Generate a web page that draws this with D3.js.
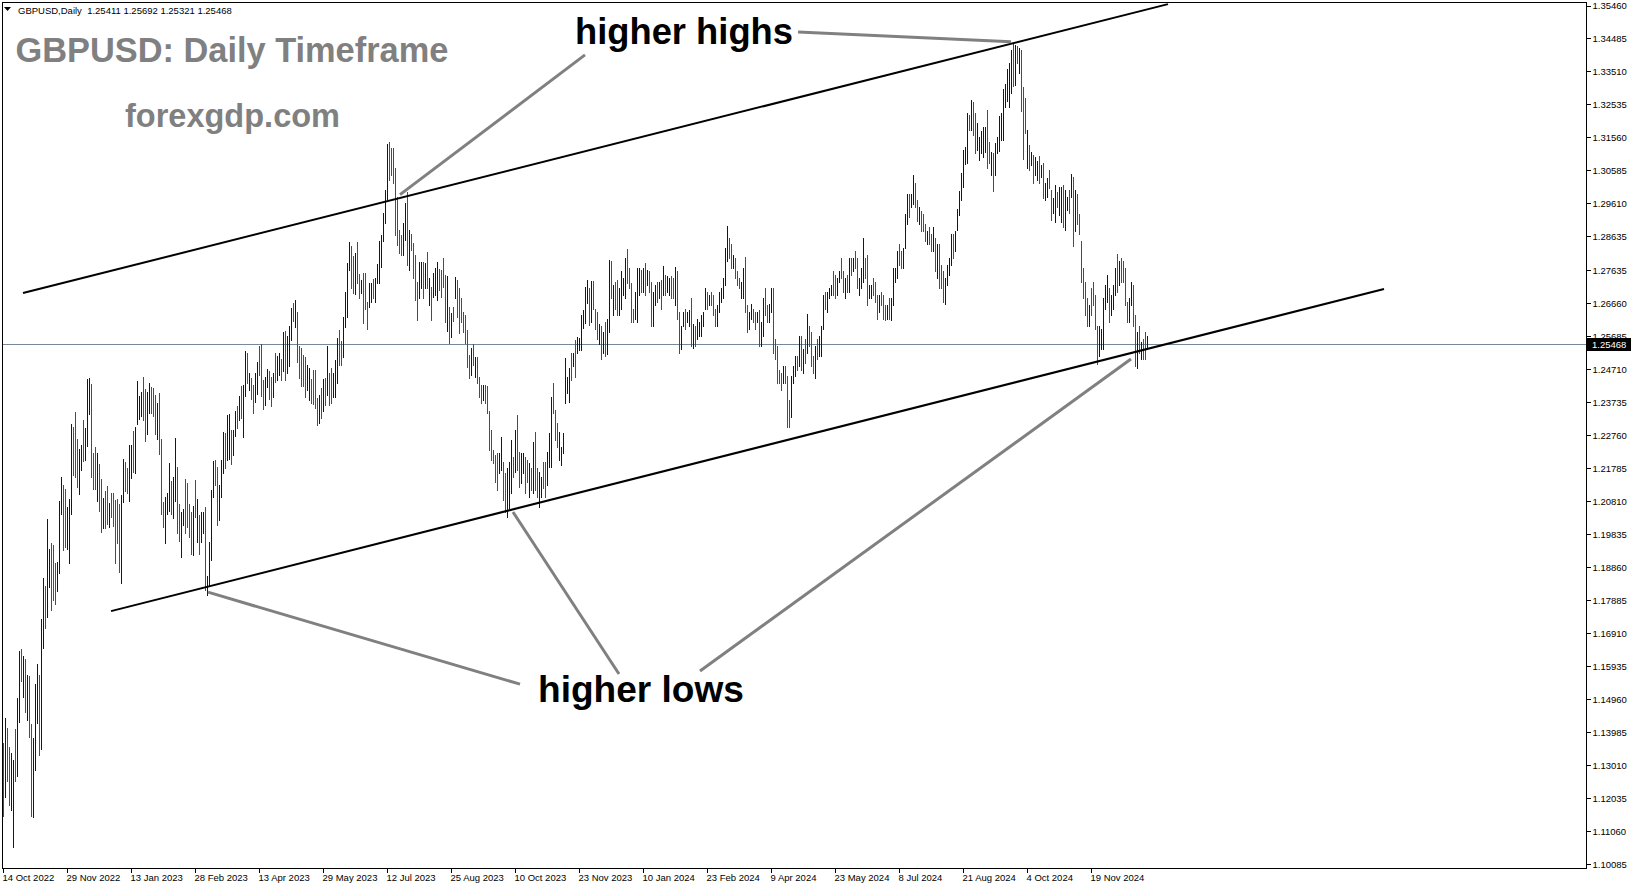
<!DOCTYPE html>
<html><head><meta charset="utf-8">
<script src="https://cdn.jsdelivr.net/npm/d3@7"></script>
<style>html,body{margin:0;padding:0;background:#fff;overflow:hidden}svg{display:block}</style>
</head><body>
<svg id="chart" width="1631" height="888"></svg>
<script>
// ---------------- DATA ----------------
const symbolTitle = "GBPUSD,Daily";
const lastQuote = {open: 1.25411, high: 1.25692, low: 1.25321, close: 1.25468};
const dateLabels = ["14 Oct 2022","29 Nov 2022","13 Jan 2023","28 Feb 2023","13 Apr 2023","29 May 2023","12 Jul 2023","25 Aug 2023","10 Oct 2023","23 Nov 2023","10 Jan 2024","23 Feb 2024","9 Apr 2024","23 May 2024","8 Jul 2024","21 Aug 2024","4 Oct 2024","19 Nov 2024"];
const barsPerDateLabel = 32;
const priceLabels = ["1.35460","1.34485","1.33510","1.32535","1.31560","1.30585","1.29610","1.28635","1.27635","1.26660","1.25685","1.24710","1.23735","1.22760","1.21785","1.20810","1.19835","1.18860","1.17885","1.16910","1.15935","1.14960","1.13985","1.13010","1.12035","1.11060","1.10085"];

const highs = [
1.1365,1.1439,1.1410,1.1355,1.1336,1.1316,1.1407,1.1498,1.1638,1.1643,
1.1623,1.1613,1.1567,1.1564,1.1422,1.1380,1.1541,1.1600,1.1567,1.1732,
1.1853,1.1830,1.2027,1.1941,1.1956,1.1951,1.1897,1.1902,1.2081,1.2151,
1.2129,1.2116,1.2063,1.2086,1.2309,1.2299,1.2344,1.2266,1.2234,1.2247,
1.2321,1.2296,1.2441,1.2444,1.2427,1.2224,1.2240,1.2222,1.2191,1.2147,
1.2089,1.2111,1.2126,1.2076,1.2106,1.2104,1.2084,1.2087,1.2074,1.2099,
1.2207,1.2198,1.2178,1.2247,1.2247,1.2289,1.2301,1.2436,1.2392,1.2404,
1.2447,1.2411,1.2404,1.2429,1.2419,1.2414,1.2395,1.2372,1.2401,1.2264,
1.2079,1.2094,1.2106,1.2193,1.2141,1.2151,1.2269,1.2181,1.2073,1.2050,
1.2057,1.2145,1.2134,1.2074,1.2050,1.2067,1.2143,1.2086,1.2040,1.2049,
1.2050,1.2065,1.1860,1.1960,1.2114,1.2201,1.2203,1.2183,1.2129,1.2203,
1.2286,1.2283,1.2335,1.2340,1.2291,1.2291,1.2348,1.2362,1.2392,1.2421,
1.2424,1.2525,1.2520,1.2459,1.2444,1.2424,1.2459,1.2493,1.2540,1.2546,
1.2439,1.2449,1.2473,1.2466,1.2449,1.2459,
1.2520,1.2510,1.2520,1.2500,1.2580,1.2585,1.2570,1.2600,
1.2651,1.2668,1.2677,1.2641,1.2540,1.2533,1.2513,1.2508,1.2484,1.2474,
1.2441,1.2469,1.2469,1.2385,1.2395,1.2415,1.2441,1.2444,1.2540,1.2459,
1.2474,1.2459,1.2498,1.2562,1.2587,1.2555,1.2626,1.2700,1.2784,1.2848,
1.2835,1.2806,1.2813,1.2847,1.2752,1.2736,
1.2754,1.2754,1.2670,1.2727,1.2725,1.2737,1.2740,1.2782,1.2851,1.2868,
1.2932,1.3001,1.3138,1.3143,1.3124,1.3124,1.3065,1.2981,1.2882,1.2868,
1.2902,1.2961,1.2996,1.2882,1.2872,1.2843,1.2808,1.2730,1.2789,1.2789,
1.2789,1.2784,1.2818,1.2740,1.2715,1.2754,1.2769,1.2789,1.2766,1.2764,
1.2801,1.2749,1.2746,1.2656,1.2636,1.2656,1.2744,1.2734,1.2710,1.2680,
1.2641,1.2631,1.2587,1.2513,1.2533,1.2546,1.2508,1.2508,1.2449,1.2424,
1.2424,1.2424,1.2420,1.2346,1.2291,1.2232,1.2218,1.2222,1.2224,1.2272,
1.2198,1.2163,1.2178,1.2198,1.2262,1.2212,1.2291,1.2336,1.2227,1.2222,
1.2222,1.2212,1.2203,1.2193,1.2178,1.2257,1.2286,1.2178,1.2168,1.2153,
1.2198,1.2198,1.2227,1.2281,1.2390,1.2429,1.2350,1.2311,1.2286,1.2242,
1.2281,1.2503,1.2449,1.2474,1.2518,1.2518,1.2557,1.2567,1.2562,1.2631,
1.2646,1.2715,1.2735,1.2710,
1.2733,1.2733,1.2650,1.2640,1.2605,1.2600,1.2580,1.2610,1.2620,1.2795,
1.2790,1.2720,1.2730,1.2735,1.2710,1.2760,1.2740,1.2800,1.2827,1.2770,
1.2725,1.2650,1.2700,1.2770,1.2770,1.2765,1.2770,1.2785,1.2765,1.2760,
1.2730,1.2700,1.2720,1.2730,1.2730,1.2735,1.2775,1.2750,1.2745,1.2740,
1.2745,1.2740,1.2773,1.2760,1.2640,1.2600,1.2640,1.2650,1.2640,1.2645,
1.2680,1.2605,1.2600,1.2620,1.2610,1.2630,1.2640,1.2710,1.2700,1.2690,
1.2700,1.2690,1.2650,1.2660,1.2700,1.2710,1.2740,1.2830,1.2894,1.2860,
1.2840,1.2810,1.2800,1.2760,1.2740,1.2730,1.2770,1.2803,1.2660,1.2640,
1.2665,1.2650,1.2640,1.2640,1.2645,1.2610,1.2680,1.2710,1.2660,1.2665,
1.2710,1.2710,1.2560,1.2540,1.2470,1.2460,1.2480,1.2480,1.2450,1.2380,
1.2450,1.2480,1.2510,1.2510,1.2570,1.2570,1.2530,1.2560,1.2634,1.2600,
1.2580,1.2510,1.2540,1.2560,1.2570,1.2600,1.2690,1.2700,1.2700,1.2710,
1.2720,1.2760,1.2750,1.2740,1.2760,1.2800,1.2760,1.2740,1.2750,1.2800,
1.2800,1.2800,1.2820,1.2800,1.2740,1.2770,1.2860,1.2800,1.2810,1.2720,
1.2720,1.2740,1.2730,1.2690,1.2690,1.2700,1.2690,1.2660,1.2660,1.2680,
1.2680,1.2770,1.2770,1.2820,1.2840,1.2820,1.2830,1.2930,1.2990,1.2990,
1.2990,1.3044,1.3020,1.2970,1.2950,1.2940,1.2930,1.2900,1.2880,1.2890,
1.2870,1.2890,1.2860,1.2840,1.2840,1.2780,1.2760,1.2740,1.2780,1.2800,
1.2870,1.2870,1.2880,
1.2944,1.2998,1.3050,1.3119,1.3129,1.3229,1.3222,1.3267,1.3262,1.3227,
1.3198,1.3156,1.3174,1.3186,1.3186,1.3237,1.3144,1.3114,1.3109,1.3139,
1.3158,1.3218,1.3227,1.3298,1.3314,1.3357,1.3375,1.3415,1.3432,1.3429,
1.3426,1.3419,1.3415,1.3306,1.3272,1.3178,1.3134,1.3114,1.3104,1.3099,
1.3085,1.3101,1.3075,1.3080,1.3020,1.3035,1.3060,1.3001,1.2976,1.3016,
1.2996,1.3011,1.3011,1.3016,1.3001,1.2981,1.3001,
1.3047,1.3040,1.3000,1.2990,1.2930,1.2850,1.2770,1.2730,1.2680,1.2660,
1.2710,1.2730,1.2690,1.2600,1.2600,1.2590,1.2680,1.2720,1.2750,1.2710,
1.2690,1.2720,1.2770,1.2811,1.2790,1.2800,1.2790,1.2770,1.2670,1.2680,
1.2730,1.2720,1.2630,1.2580,1.2600,1.2550,1.2560,1.2580,1.25692
];

const lows = [
1.1149,1.1206,1.1255,1.1183,1.1168,1.1060,1.1255,1.1269,1.1429,1.1548,
1.1503,1.1459,1.1434,1.1385,1.1149,1.1147,1.1286,1.1424,1.1331,1.1348,
1.1646,1.1707,1.1740,1.1828,1.1759,1.1789,1.1777,1.1816,1.1870,1.2043,
1.1937,1.1944,1.1941,1.1899,1.2043,1.2158,1.2151,1.2124,1.2102,1.2173,
1.2200,1.2204,1.2244,1.2338,1.2153,1.2118,1.2116,1.2082,1.2053,1.1991,
1.2001,1.2001,1.2013,1.2006,1.2035,1.2007,1.1899,1.1956,1.1873,1.1840,
1.2079,1.2112,1.2104,1.2082,1.2148,1.2168,1.2165,1.2309,1.2323,1.2333,
1.2321,1.2260,1.2279,1.2342,1.2342,1.2333,1.2279,1.2266,1.2220,1.2043,
1.2004,1.1958,1.2043,1.2053,1.2043,1.2030,1.2082,1.1988,1.1964,1.1915,
1.2010,1.1986,1.2004,1.1974,1.1925,1.1922,1.2035,1.1961,1.1924,1.1961,
1.1988,1.1818,1.1804,1.1830,1.1907,1.2092,1.2129,1.2010,1.2025,1.2094,
1.2165,1.2178,1.2203,1.2207,1.2191,1.2217,1.2273,1.2296,1.2321,1.2326,
1.2271,1.2392,1.2431,1.2409,1.2382,1.2342,1.2375,1.2398,1.2454,1.2392,
1.2352,1.2365,1.2419,1.2382,1.2362,1.2390,
1.2434,1.2440,1.2455,1.2440,1.2465,1.2440,1.2460,1.2480,
1.2557,1.2612,1.2595,1.2493,1.2444,1.2420,1.2420,1.2390,1.2410,1.2380,
1.2370,1.2368,1.2355,1.2306,1.2311,1.2326,1.2346,1.2365,1.2395,1.2365,
1.2370,1.2390,1.2390,1.2429,1.2484,1.2484,1.2506,1.2597,1.2626,1.2764,
1.2710,1.2697,1.2694,1.2727,1.2682,1.2695,
1.2607,1.2650,1.2590,1.2656,1.2671,1.2680,1.2671,1.2725,1.2725,1.2774,
1.2849,1.2902,1.2973,1.3030,1.3045,1.3020,1.2868,1.2838,1.2813,1.2808,
1.2808,1.2853,1.2779,1.2764,1.2823,1.2740,1.2675,1.2617,1.2680,1.2710,
1.2680,1.2710,1.2710,1.2661,1.2617,1.2685,1.2690,1.2675,1.2705,1.2685,
1.2715,1.2611,1.2585,1.2548,1.2567,1.2612,1.2680,1.2626,1.2577,1.2610,
1.2582,1.2548,1.2478,1.2444,1.2454,1.2484,1.2449,1.2429,1.2390,1.2370,
1.2380,1.2370,1.2341,1.2232,1.2203,1.2193,1.2139,1.2114,1.2163,1.2173,
1.2085,1.2050,1.2035,1.2060,1.2104,1.2153,1.2168,1.2173,1.2124,1.2134,
1.2163,1.2104,1.2139,1.2094,1.2114,1.2104,1.2114,1.2094,1.2065,1.2094,
1.2119,1.2094,1.2129,1.2183,1.2183,1.2341,1.2262,1.2242,1.2203,1.2188,
1.2222,1.2370,1.2400,1.2375,1.2439,1.2479,1.2449,1.2518,1.2528,1.2528,
1.2592,1.2607,1.2666,1.2602,
1.2611,1.2650,1.2590,1.2560,1.2545,1.2500,1.2520,1.2510,1.2515,1.2580,
1.2680,1.2630,1.2650,1.2630,1.2630,1.2650,1.2690,1.2680,1.2725,1.2710,
1.2610,1.2610,1.2620,1.2610,1.2690,1.2700,1.2700,1.2690,1.2720,1.2700,
1.2600,1.2600,1.2660,1.2670,1.2680,1.2650,1.2690,1.2690,1.2700,1.2690,
1.2680,1.2680,1.2660,1.2620,1.2518,1.2530,1.2600,1.2590,1.2610,1.2600,
1.2540,1.2535,1.2540,1.2560,1.2570,1.2570,1.2600,1.2650,1.2650,1.2660,
1.2660,1.2630,1.2600,1.2600,1.2640,1.2670,1.2680,1.2720,1.2790,1.2800,
1.2770,1.2770,1.2740,1.2720,1.2710,1.2680,1.2680,1.2640,1.2580,1.2590,
1.2620,1.2610,1.2590,1.2610,1.2540,1.2540,1.2570,1.2630,1.2610,1.2610,
1.2640,1.2520,1.2500,1.2430,1.2430,1.2410,1.2430,1.2430,1.2300,1.2300,
1.2330,1.2430,1.2450,1.2470,1.2480,1.2470,1.2460,1.2490,1.2520,1.2540,
1.2480,1.2460,1.2446,1.2500,1.2510,1.2510,1.2590,1.2650,1.2640,1.2680,
1.2690,1.2690,1.2680,1.2690,1.2730,1.2740,1.2700,1.2680,1.2700,1.2700,
1.2750,1.2760,1.2770,1.2710,1.2690,1.2710,1.2730,1.2740,1.2660,1.2680,
1.2680,1.2690,1.2670,1.2620,1.2640,1.2660,1.2620,1.2615,1.2620,1.2620,
1.2615,1.2660,1.2730,1.2740,1.2780,1.2770,1.2770,1.2830,1.2900,1.2920,
1.2950,1.2960,1.2950,1.2910,1.2900,1.2880,1.2880,1.2850,1.2840,1.2840,
1.2820,1.2820,1.2760,1.2740,1.2710,1.2710,1.2670,1.2665,1.2720,1.2750,
1.2780,1.2800,1.2820,
1.2883,1.2927,1.2971,1.3009,1.3078,1.3080,1.3178,1.3178,1.3163,1.3109,
1.3119,1.3088,1.3111,1.3099,1.3114,1.3065,1.3080,1.3045,1.2999,1.3045,
1.3111,1.3117,1.3148,1.3149,1.3247,1.3265,1.3247,1.3286,1.3308,1.3311,
1.3375,1.3346,1.3235,1.3091,1.3169,1.3065,1.3060,1.3075,1.3021,1.3045,
1.3030,1.3020,1.3040,1.2976,1.2971,1.2981,1.3006,1.2912,1.2932,1.2907,
1.2951,1.2927,1.2907,1.2892,1.2883,1.2942,1.2932,
1.2980,1.2835,1.2880,1.2900,1.2870,1.2730,1.2680,1.2630,1.2600,1.2600,
1.2630,1.2660,1.2590,1.2487,1.2510,1.2530,1.2530,1.2650,1.2670,1.2610,
1.2630,1.2650,1.2690,1.2700,1.2720,1.2730,1.2730,1.2660,1.2610,1.2610,
1.2660,1.2600,1.2480,1.2475,1.2520,1.2500,1.2500,1.2500,1.25321
];

// 1 = bar closed higher than it opened (blue), 0 = closed lower (red)
const upBars = [
0,1,0,0,1,1,0,1,1,0, 1,0,1,0,0,1,1,1,0,1, 1,0,1,1,0,0,0,1,1,1, 0,0,1,1,1,0,0,0,1,1,
0,1,1,1,0,0,0,1,0,0, 1,0,0,1,0,0,0,0,0,1, 1,0,0,1,1,0,1,1,1,1, 0,0,1,1,0,0,0,1,0,0,
0,1,1,1,0,1,1,0,0,1, 1,0,0,0,0,1,0,1,0,1, 1,0,1,1,1,1,0,0,1,1, 1,0,1,1,0,1,1,0,1,0,
1,1,0,1,0,0,1,1,0,0, 0,1,1,0,0,1,
0,1,1,0,1,0,1,1, 1,0,1,0,0,0,0,0,1,1, 0,0,0,0,1,0,1,0,1,0, 0,1,1,1,0,0,1,1,1,1,
0,0,1,0,0,1, 0,0,0,1,1,0,1,1,1,1, 1,1,1,0,0,0,0,0,0,0, 1,1,0,1,0,0,0,0,1,1,
0,1,0,1,0,1,1,1,0,0, 0,0,1,0,1,0,1,0,0,0,
0,0,0,0,1,0,1,0,0,0, 1,0,0,0,0,0,0,0,1,1, 0,0,1,1,1,0,1,0,0,1, 1,0,0,1,0,1,0,0,1,1,
0,0,1,1,1,0,0,0,1,1, 1,1,1,1,0,1,0,1,1,1, 1,1,1,0,
1,0,0,0,1,0,1,0,1,1, 0,1,0,0,1,1,1,1,0,0, 0,0,1,1,1,0,1,0,1,0, 0,1,1,0,1,0,1,0,1,1,
0,0,1,0,0,1,1,0,1,1, 0,1,0,1,1,1,1,1,0,1, 0,0,0,1,1,1,1,1,1,0, 0,1,0,0,0,1,1,0,0,1,
1,0,0,1,0,1,1,0,0,1, 1,0,0,0,0,0,1,0,0,0, 1,1,1,0,1,0,1,0,1,0, 0,0,1,0,1,1,1,0,1,1,
1,0,0,1,1,0,0,1,0,1, 0,1,0,0,1,1,1,0,0,1, 1,0,0,0,1,0,0,0,1,0, 1,1,1,1,0,0,1,1,1,0,
1,1,0,0,1,0,0,0,1,0, 0,1,0,1,0,0,0,1,1,1, 1,0,1,
1,1,1,1,1,1,0,1,0,0, 1,1,1,1,1,0,0,1,0,1, 1,1,1,1,1,1,1,1,0,1, 0,1,0,0,0,1,0,1,0,1,
1,0,1,0,1,1,0,0,1,1, 0,1,1,0,1,1,0,
1,0,1,0,0,0,0,0,0,1, 0,0,0,0,1,1,1,1,1,0, 1,1,1,0,1,0,0,0,0,1, 1,0,0,1,0,1,0,0,1
];

// channel lines and pointer annotations, in (bar index, price)
const channelLines = [
  {from: [10, 1.2696], to: [582.5, 1.3550]},
  {from: [54, 1.1756], to: [690.5, 1.2708]}
];
const annotations = [
  {text: "higher highs", at: [286, 1.34322], width: 218},
  {text: "higher lows", at: [267.5, 1.14872], width: 206}
];
const pointers = [
  {from: [397.5, 1.3468], to: [504, 1.3439]},
  {from: [291, 1.3400], to: [198.5, 1.2987]},
  {from: [258.5, 1.1540], to: [102.5, 1.1812]},
  {from: [308, 1.1570], to: [255, 1.2049]},
  {from: [348.5, 1.1579], to: [564, 1.2501]}
];

// ---------------- DRAW ----------------
const W = 1631, H = 888;
const plot = {l: 2, t: 2, r: 1586, b: 868};
const UP = "#0000cd", DOWN = "#ff0000";
const svg = d3.select("#chart");
svg.append("rect").attr("width", W).attr("height", H).attr("fill", "#fff");

const n = highs.length;
const x = d3.scaleLinear().domain([0, n - 1]).range([3, 3 + 2 * (n - 1)]);
const y = d3.scaleLinear().domain([1.10085, 1.35460]).range([864, 5.5]);

svg.append("clipPath").attr("id", "clip").append("rect")
  .attr("x", plot.l).attr("y", plot.t).attr("width", plot.r - plot.l).attr("height", plot.b - plot.t);
const g = svg.append("g").attr("clip-path", "url(#clip)");

// current price line
g.append("line")
  .attr("x1", plot.l).attr("x2", plot.r)
  .attr("y1", Math.round(y(lastQuote.close)) + 0.5).attr("y2", Math.round(y(lastQuote.close)) + 0.5)
  .attr("stroke", "#778899").attr("stroke-width", 1).attr("shape-rendering", "crispEdges");

// bars
const bars = highs.map((h, i) => ({i, h, l: lows[i], up: upBars[i]}));
g.append("g").attr("shape-rendering", "crispEdges").selectAll("rect").data(bars).join("rect")
  .attr("x", d => Math.round(x(d.i)))
  .attr("width", 1)
  .attr("y", d => Math.round(y(d.h)))
  .attr("height", d => Math.max(1, Math.round(y(d.l)) - Math.round(y(d.h)) + 1))
  .attr("fill", d => d.up ? UP : DOWN);

// channel lines
g.selectAll("line.ch").data(channelLines).join("line").attr("class", "ch")
  .attr("x1", d => x(d.from[0])).attr("y1", d => y(d.from[1]))
  .attr("x2", d => x(d.to[0])).attr("y2", d => y(d.to[1]))
  .attr("stroke", "#000").attr("stroke-width", 2);

// pointers
g.selectAll("line.pt").data(pointers).join("line").attr("class", "pt")
  .attr("x1", d => x(d.from[0])).attr("y1", d => y(d.from[1]))
  .attr("x2", d => x(d.to[0])).attr("y2", d => y(d.to[1]))
  .attr("stroke", "#808080").attr("stroke-width", 3);

function fitWidth(sel, w) {
  const len = sel.node().getComputedTextLength();
  const fs = parseFloat(sel.attr("font-size"));
  sel.attr("font-size", (fs * w / len).toFixed(2));
}

// annotation texts
annotations.forEach(a => {
  const t = svg.append("text").attr("x", x(a.at[0])).attr("y", y(a.at[1]))
    .attr("font-family", "Liberation Sans, Arial, sans-serif").attr("font-weight", "bold")
    .attr("font-size", 36).attr("fill", "#000").text(a.text);
  fitWidth(t, a.width);
});

// watermark titles
const t1 = svg.append("text").attr("x", 15.5).attr("y", 62)
  .attr("font-family", "Liberation Sans, Arial, sans-serif").attr("font-weight", "bold")
  .attr("font-size", 34).attr("fill", "#808080").text("GBPUSD: Daily Timeframe");
fitWidth(t1, 433);
const t2 = svg.append("text").attr("x", 125).attr("y", 127)
  .attr("font-family", "Liberation Sans, Arial, sans-serif").attr("font-weight", "bold")
  .attr("font-size", 32).attr("fill", "#808080").text("forexgdp.com");
fitWidth(t2, 215);

// frame
svg.append("rect").attr("x", plot.l + 0.5).attr("y", plot.t + 0.5)
  .attr("width", plot.r - plot.l).attr("height", plot.b - plot.t)
  .attr("fill", "none").attr("stroke", "#000").attr("shape-rendering", "crispEdges");

// right price axis
const yAxis = d3.axisRight(y)
  .tickValues(priceLabels.map(Number))
  .tickFormat((d, i) => priceLabels[i])
  .tickSize(4).tickSizeOuter(0).tickPadding(2);
const ya = svg.append("g").attr("transform", `translate(${plot.r + 0.5},0)`).call(yAxis);
ya.select(".domain").remove();
ya.selectAll("line").attr("stroke", "#000").attr("shape-rendering", "crispEdges");
ya.selectAll("text").attr("font-family", "Liberation Sans, Arial, sans-serif").attr("font-size", 9.5).attr("fill", "#000");

// bottom time axis
const xAxis = d3.axisBottom(x)
  .tickValues(dateLabels.map((d, k) => k * barsPerDateLabel))
  .tickFormat((d, i) => dateLabels[i])
  .tickSize(4).tickSizeOuter(0).tickPadding(2);
const xa = svg.append("g").attr("transform", `translate(0,${plot.b + 0.5})`).call(xAxis);
xa.select(".domain").remove();
xa.selectAll("line").attr("stroke", "#000").attr("shape-rendering", "crispEdges");
xa.selectAll("text").attr("text-anchor", "start").attr("dx", -1)
  .attr("font-family", "Liberation Sans, Arial, sans-serif").attr("font-size", 9.5).attr("fill", "#000");

// last price label on axis
const ly = Math.round(y(lastQuote.close));
svg.append("rect").attr("x", plot.r + 1).attr("y", ly - 6).attr("width", W - plot.r - 1).attr("height", 13).attr("fill", "#000");
svg.append("text").attr("x", plot.r + 6).attr("y", ly + 4)
  .attr("font-family", "Liberation Sans, Arial, sans-serif").attr("font-size", 9.5).attr("fill", "#fff")
  .text(lastQuote.close.toFixed(5));

// header
svg.append("path").attr("d", "M4,7 L11,7 L7.5,11 Z").attr("fill", "#000");
svg.append("text").attr("x", 18).attr("y", 13.5)
  .attr("font-family", "Liberation Sans, Arial, sans-serif").attr("font-size", 9.5).attr("fill", "#000")
  .attr("xml:space", "preserve")
  .text(`${symbolTitle}  ${lastQuote.open.toFixed(5)} ${lastQuote.high.toFixed(5)} ${lastQuote.low.toFixed(5)} ${lastQuote.close.toFixed(5)}`);
</script>
</body></html>
